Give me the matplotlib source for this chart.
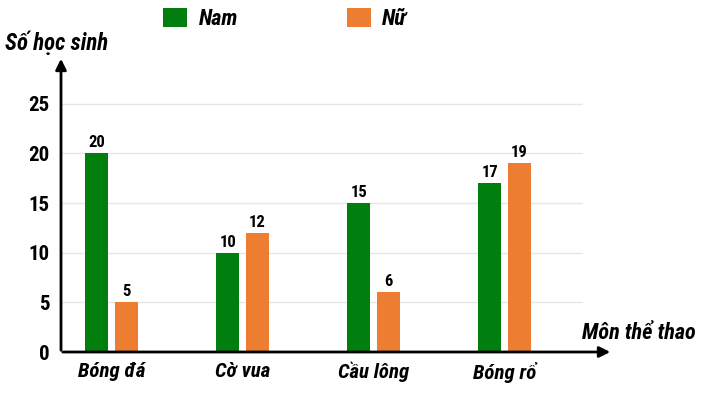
import numpy as np
import matplotlib.pyplot as plt
from matplotlib import font_manager

# data
# ----------
sports = ["Bóng đá", "Cờ vua", "Cầu lông", "Bóng rổ"]
nam = [20, 10, 15, 17]
nu = [5, 12, 6, 19]
yticks = [0, 5, 10, 15, 20, 25]

# plot settings
# ----------
names = {f.name for f in font_manager.fontManager.ttflist}
fam = [n for n in ["Roboto Condensed", "Liberation Sans Narrow", "DejaVu Sans Condensed"] if n in names]
fam = fam[:1] + ["DejaVu Sans"]
plt.rcParams["font.family"] = fam
plt.rcParams["font.stretch"] = "condensed"

green = "#007f0e"
orange = "#ed7d31"

fig = plt.figure(figsize=(7.04, 3.93), dpi=100)
W, H = 704, 393
ax = fig.add_axes([61 / W, 41 / H, (583 - 61) / W, 294 / H])

x = np.arange(len(sports))
w = 0.176
off = 0.1125
b1 = ax.bar(x - off, nam, w, color=green, label="Nam", zorder=3)
b2 = ax.bar(x + off, nu, w, color=orange, label="Nữ", zorder=3)

for bars, vals in ((b1, nam), (b2, nu)):
    for r, v in zip(bars, vals):
        ax.text(r.get_x() + r.get_width() / 2, v + 0.3, str(v), ha="center", va="bottom",
                fontsize=12, fontweight="bold")

ax.set_xlim(-0.385, 3.6)
ax.set_ylim(0, 29.6)
ax.set_yticks(yticks)
ax.set_yticklabels([str(t) for t in yticks], fontsize=15, fontweight="bold")
ax.set_xticks(x)
ax.set_xticklabels(sports, fontsize=15, fontweight="bold", style="italic")
ax.tick_params(axis="both", length=0)
ax.tick_params(axis="y", pad=8)
ax.tick_params(axis="x", pad=7)
ax.yaxis.grid(True, color="#e6e6e6", lw=1, zorder=0)
for s in ax.spines.values():
    s.set_visible(False)
ax.get_ygridlines()[0].set_visible(False)

# axis arrows
ax.annotate("", xy=(61 / W, (393 - 56) / H), xytext=(61 / W, 40 / H), xycoords="figure fraction",
            arrowprops=dict(arrowstyle="-|>", color="black", lw=2, mutation_scale=16))
ax.annotate("", xy=(613 / W, 41 / H), xytext=(60 / W, 41 / H), xycoords="figure fraction",
            arrowprops=dict(arrowstyle="-|>", color="black", lw=2, mutation_scale=16))

fig.text(5 / W, 1 - 43 / H, "Số học sinh", fontsize=16.5, fontweight="bold", style="italic", va="center")
fig.text(696 / W, 1 - 333 / H, "Môn thể thao", fontsize=16, fontweight="bold", style="italic",
         va="center", ha="right")

fig.legend(handles=[b1, b2], loc="center left", bbox_to_anchor=(163 / W, 1 - 19 / H), ncol=2,
           frameon=False, handlelength=1.1, handleheight=0.9, columnspacing=4.9, handletextpad=0.5,
           borderpad=0, borderaxespad=0, prop=dict(family=fam, size=16, weight="bold", style="italic",
                                                   stretch="condensed"))

fig.savefig("out.png", dpi=100)
